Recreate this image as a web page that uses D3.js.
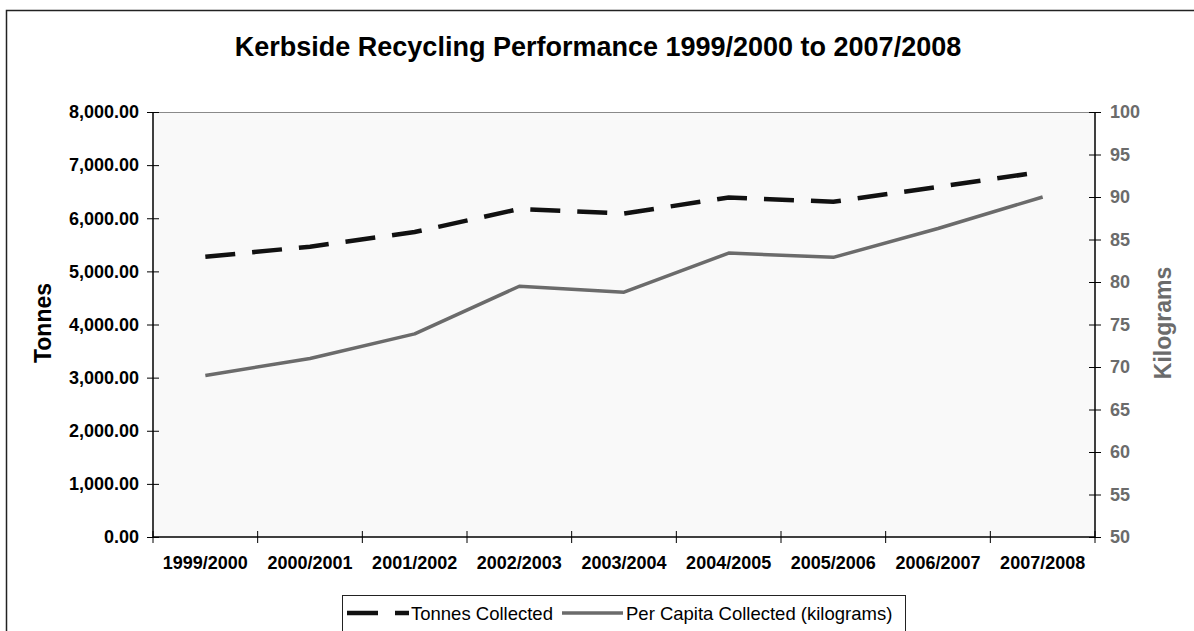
<!DOCTYPE html>
<html><head><meta charset="utf-8">
<script src="https://cdn.jsdelivr.net/npm/d3@7"></script>
<style>
html,body{margin:0;padding:0;background:#fff;}
svg text{font-family:"Liberation Sans",Arial,sans-serif;}
</style></head>
<body>
<svg id="chart" width="1194" height="631"></svg>
<script>
const categories = ["1999/2000","2000/2001","2001/2002","2002/2003","2003/2004","2004/2005","2005/2006","2006/2007","2007/2008"];
const tonnesCollected = [5275, 5465, 5740, 6175, 6090, 6390, 6310, 6590, 6875];
const perCapitaCollected = [69.0, 71.0, 73.9, 79.5, 78.8, 83.4, 82.9, 86.3, 90.0];
const leftTicks = [0,1000,2000,3000,4000,5000,6000,7000,8000];
const rightTicks = [50,55,60,65,70,75,80,85,90,95,100];
const seriesNames = ["Tonnes Collected","Per Capita Collected (kilograms)"];
const titleText = "Kerbside Recycling Performance 1999/2000 to 2007/2008";

const svg = d3.select("#chart");
const L = 153, R = 1095, T = 112, B = 537;
const grey = "#6b6b6b";

// outer frame (clipped on right/bottom)
svg.append("rect").attr("x",6.5).attr("y",10.5).attr("width",1300).attr("height",700)
  .attr("fill","#fff").attr("stroke","#222").attr("stroke-width",1.5);

const x = d3.scaleBand().domain(categories).range([L,R]).padding(0);
const yL = d3.scaleLinear().domain([0,8000]).range([B,T]);
const yR = d3.scaleLinear().domain([50,100]).range([B,T]);

// plot area
svg.append("rect").attr("x",L).attr("y",T).attr("width",R-L).attr("height",B-T).attr("fill","#f9f9f9");
svg.append("line").attr("x1",L).attr("x2",R).attr("y1",T+0.5).attr("y2",T+0.5).attr("stroke","#8a8a8a").attr("stroke-width",1);

// title
svg.append("text").attr("x",598).attr("y",56).attr("text-anchor","middle")
  .attr("font-size",27).attr("font-weight","bold").attr("fill","#000").text(titleText);

// left axis
const fmt = d3.format(",.2f");
const gL = svg.append("g").attr("transform",`translate(${L},0)`)
  .call(d3.axisLeft(yL).tickValues(leftTicks).tickFormat(fmt).tickSize(6).tickPadding(8));
gL.select(".domain").attr("stroke","#000").attr("stroke-width",1.5).attr("d",`M0,${T}V${B}`);
gL.selectAll(".tick line").attr("x1",-6).attr("x2",6).attr("stroke","#000");
gL.selectAll(".tick text").attr("font-size",18).attr("font-weight","bold").attr("fill","#000").attr("font-family","Liberation Sans, Arial, sans-serif");

// right axis
const gR = svg.append("g").attr("transform",`translate(${R},0)`)
  .call(d3.axisRight(yR).tickValues(rightTicks).tickFormat(d3.format("d")).tickSize(6).tickPadding(9));
gR.select(".domain").attr("stroke","#000").attr("stroke-width",1.5).attr("d",`M0,${T}V${B}`);
gR.selectAll(".tick line").attr("x1",-6).attr("x2",6).attr("stroke","#000");
gR.selectAll(".tick text").attr("font-size",18).attr("font-weight","bold").attr("fill",grey).attr("font-family","Liberation Sans, Arial, sans-serif");

// bottom axis
const gB = svg.append("g").attr("transform",`translate(0,${B})`)
  .call(d3.axisBottom(x).tickSize(0).tickPadding(19));
gB.select(".domain").attr("stroke","#000").attr("stroke-width",1.5).attr("d",`M${L},0H${R}`);
gB.selectAll(".tick text").attr("font-size",18).attr("font-weight","bold").attr("fill","#000").attr("font-family","Liberation Sans, Arial, sans-serif");
const bounds = categories.map(c => x(c)).concat([x.range()[1]]);
svg.append("g").selectAll("line").data(bounds).join("line")
  .attr("x1",d=>d).attr("x2",d=>d).attr("y1",B-6).attr("y2",B+6).attr("stroke","#000").attr("stroke-width",1);

// axis titles
svg.append("text").attr("transform",`translate(51,323) rotate(-90)`).attr("text-anchor","middle")
  .attr("font-size",23).attr("font-weight","bold").attr("fill","#000").text("Tonnes");
svg.append("text").attr("transform",`translate(1171,323) rotate(-90)`).attr("text-anchor","middle")
  .attr("font-size",23).attr("font-weight","bold").attr("fill",grey).text("Kilograms");

// lines
const cx = c => x(c) + x.bandwidth()/2;
const lineT = d3.line().x((d,i)=>cx(categories[i])).y(d=>yL(d));
const lineP = d3.line().x((d,i)=>cx(categories[i])).y(d=>yR(d));
svg.append("path").datum(perCapitaCollected).attr("d",lineP).attr("fill","none")
  .attr("stroke",grey).attr("stroke-width",3.5).attr("stroke-linejoin","round");
svg.append("path").datum(tonnesCollected).attr("d",lineT).attr("fill","none")
  .attr("stroke","#111").attr("stroke-width",4.5).attr("stroke-dasharray","30,17");

// legend
const lg = svg.append("g");
lg.append("rect").attr("x",342.5).attr("y",595.5).attr("width",563).attr("height",40)
  .attr("fill","#fff").attr("stroke","#222").attr("stroke-width",1);
const ly = 613;
lg.append("line").attr("x1",347).attr("x2",409).attr("y1",ly).attr("y2",ly)
  .attr("stroke","#111").attr("stroke-width",4.5).attr("stroke-dasharray","31,17");
lg.append("text").attr("x",411).attr("y",ly+6.5).attr("font-size",18.5).attr("fill","#000").text(seriesNames[0]);
lg.append("line").attr("x1",562).attr("x2",623).attr("y1",ly).attr("y2",ly)
  .attr("stroke",grey).attr("stroke-width",3.5);
lg.append("text").attr("x",626).attr("y",ly+6.5).attr("font-size",18.5).attr("fill","#000").text(seriesNames[1]);
</script>
</body></html>
